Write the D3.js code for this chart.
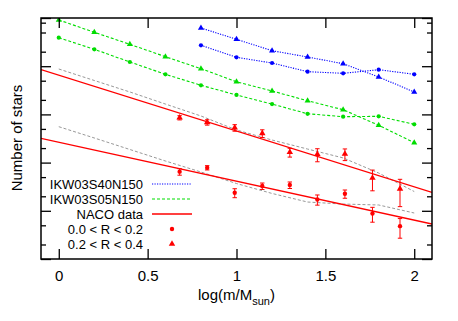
<!DOCTYPE html>
<html>
<head>
<meta charset="utf-8">
<script src="https://cdn.jsdelivr.net/npm/d3@7"></script>
<style>
  html, body { margin: 0; padding: 0; background: #fff; }
  svg { display: block; font-family: "Liberation Sans", Arial, Helvetica, sans-serif; }
</style>
</head>
<body>
<svg id="chart" width="458" height="321"></svg>
<script>
// ---- data ----
const xTicks = [0, 0.5, 1, 1.5, 2];
const yMajorTicks = [0.1, 1, 10, 100, 1000, 10000];
const yMinorTicks = [0.2, 0.5, 2, 5, 20, 50, 200, 500, 2000, 5000, 8000];

const modelX = [0, 0.2, 0.4, 0.6, 0.8, 1.0, 1.2, 1.4, 1.6, 1.8, 2.0];
const s05Tri  = [9100, 5050, 2845, 1574, 887, 477, 306, 192, 125, 59.4, 25.9];
const s05Circ = [3900, 2243, 1222, 679, 402, 253, 164, 103, 89.6, 91.3, 62.3];

const s40X    = [0.8, 1.0, 1.2, 1.4, 1.6, 1.8, 2.0];
const s40Tri  = [6205, 3614, 2098, 1552, 1127, 597, 292];
const s40Circ = [2715, 1530, 1165, 769, 712, 846, 679];

const grayUpper = [875, 505, 292, 164, 92.7, 47.5, 29.4, 19.1, 12.5, 6.08, 2.51];
const grayLower = [55.6, 32.4, 18.7, 10.8, 6.38, 3.68, 2.29, 1.52, 1.38, 1.32, 0.90];

const nacoX       = [0.68, 0.835, 0.99, 1.145, 1.30, 1.455, 1.61, 1.765, 1.92];
const nacoTri     = [85.4, 68.6, 53.0, 40.5, 16.4, 14.9, 15.1, 4.8, 2.86];
const nacoTriErr  = [8.6, 8.7, 8.2, 7.4, 3.4, 4.5, 4.1, 2.2, 1.64];
const nacoCirc    = [6.48, 7.84, 2.37, 3.27, 3.43, 1.72, 2.26, 0.88, 0.48];
const nacoCircErr = [1.0, 0.8, 0.5, 0.5, 0.53, 0.41, 0.44, 0.30, 0.21];

// power-law fits: log10(N) = intercept + slope * log(m)
const fitIntercepts = [2.815, 1.423];
const fitSlopes     = [-1.158, -0.808];

const legendLabels = ["IKW03S40N150", "IKW03S05N150", "NACO data", "0.0 < R < 0.2", "0.2 < R < 0.4"];

// ---- layout ----
const L = 41, R = 432, T = 18, B = 259;
const BLUE = "#0000ff", GREEN = "#00dd00", RED = "#ff0000", GRAY = "#8c8c8c";

const svg = d3.select("#chart");
const x = d3.scaleLinear().domain([-0.1, 2.1]).range([L, R]);
const y = d3.scaleLog().domain([0.1, 10000]).range([B, T]);

svg.append("defs").append("clipPath").attr("id", "clip")
  .append("rect").attr("x", L).attr("y", T).attr("width", R - L).attr("height", B - T);

const plot = svg.append("g").attr("clip-path", "url(#clip)");

const line = d3.line().x(d => x(d[0])).y(d => y(d[1]));
const zip = (xs, ys) => xs.map((v, i) => [v, ys[i]]);

// gray model lines
[grayUpper, grayLower].forEach(arr => {
  plot.append("path").attr("d", line(zip(modelX, arr)))
    .attr("fill", "none").attr("stroke", GRAY).attr("stroke-width", 0.9)
    .attr("stroke-dasharray", "3,2");
});

// red fit lines
fitIntercepts.forEach((a, i) => {
  const xd = x.domain();
  const pts = xd.map(v => [v, Math.pow(10, a + fitSlopes[i] * v)]);
  plot.append("path").attr("d", line(pts))
    .attr("fill", "none").attr("stroke", RED).attr("stroke-width", 1.3);
});

// green model
const sym = (type, size) => d3.symbol().type(type).size(size)();
function modelSeries(xs, ys, color, dash, type, size) {
  plot.append("path").attr("d", line(zip(xs, ys)))
    .attr("fill", "none").attr("stroke", color).attr("stroke-width", 1.1)
    .attr("stroke-dasharray", dash);
  plot.selectAll(null).data(zip(xs, ys)).enter().append("path")
    .attr("d", sym(type, size))
    .attr("transform", d => `translate(${x(d[0])},${y(d[1])})`)
    .attr("fill", color);
}
modelSeries(modelX, s05Tri, GREEN, "3,2", d3.symbolTriangle, 16);
modelSeries(modelX, s05Circ, GREEN, "3,2", d3.symbolCircle, 14);
modelSeries(s40X, s40Tri, BLUE, "1.2,1.3", d3.symbolTriangle, 16);
modelSeries(s40X, s40Circ, BLUE, "1.2,1.3", d3.symbolCircle, 14);

// NACO points with error bars
function errSeries(vals, errs, type, size) {
  const g = plot.append("g");
  vals.forEach((v, i) => {
    const cx = x(nacoX[i]);
    const y1 = y(v + errs[i]), y2 = y(v - errs[i]);
    g.append("line").attr("x1", cx).attr("x2", cx).attr("y1", y1).attr("y2", y2)
      .attr("stroke", RED).attr("stroke-width", 1);
    [y1, y2].forEach(yy => g.append("line").attr("x1", cx - 2.2).attr("x2", cx + 2.2)
      .attr("y1", yy).attr("y2", yy).attr("stroke", RED).attr("stroke-width", 1));
    g.append("path").attr("d", sym(type, size))
      .attr("transform", `translate(${cx},${y(v)})`).attr("fill", RED);
  });
}
errSeries(nacoTri, nacoTriErr, d3.symbolTriangle, 18);
errSeries(nacoCirc, nacoCircErr, d3.symbolCircle, 15);

// ---- axes ----
const axG = svg.append("g");
function styleAxis(g) {
  g.select(".domain").remove();
  g.selectAll(".tick line").attr("stroke", "#000").attr("stroke-width", 1.3);
  g.selectAll("text").attr("font-size", 15).attr("fill", "#000")
    .attr("font-family", "'Liberation Sans', Arial, sans-serif");
}
axG.append("g").attr("transform", `translate(0,${B})`)
  .call(d3.axisBottom(x).tickValues(xTicks).tickFormat(d3.format("")).tickSizeInner(-10).tickSizeOuter(0).tickPadding(11))
  .call(styleAxis);
axG.append("g").attr("transform", `translate(0,${T})`)
  .call(d3.axisTop(x).tickValues(xTicks).tickFormat("").tickSizeInner(-10).tickSizeOuter(0))
  .call(styleAxis);
[[d3.axisLeft, L], [d3.axisRight, R]].forEach(([ax, pos]) => {
  axG.append("g").attr("transform", `translate(${pos},0)`)
    .call(ax(y).tickValues(yMajorTicks).tickFormat("").tickSizeInner(-10).tickSizeOuter(0))
    .call(styleAxis);
  axG.append("g").attr("transform", `translate(${pos},0)`)
    .call(ax(y).tickValues(yMinorTicks).tickFormat("").tickSizeInner(-5).tickSizeOuter(0))
    .call(styleAxis);
});
axG.append("rect").attr("x", L).attr("y", T).attr("width", R - L).attr("height", B - T)
  .attr("fill", "none").attr("stroke", "#000").attr("stroke-width", 1.5);

// axis labels
svg.append("text").attr("transform", `translate(22,138) rotate(-90)`)
  .attr("text-anchor", "middle").attr("font-size", 15).text("Number of stars");
const xl = svg.append("text").attr("x", (L + R) / 2).attr("y", 300)
  .attr("text-anchor", "middle").attr("font-size", 15);
xl.append("tspan").text("log(m/M");
xl.append("tspan").attr("font-size", 11).attr("dy", 5).text("sun");
xl.append("tspan").attr("dy", -5).text(")");

// ---- legend ----
const leg = svg.append("g");
const rowY = [184, 199, 214, 229, 244];
legendLabels.forEach((lab, i) => {
  leg.append("text").attr("x", 143).attr("y", rowY[i] + 5)
    .attr("text-anchor", "end").attr("font-size", 13).text(lab);
});
const legLines = [[BLUE, "1.2,1.3", 1.1], [GREEN, "3,2", 1.1], [RED, null, 1.3]];
legLines.forEach(([c, dash, w], i) => {
  leg.append("line").attr("x1", 152).attr("x2", 192).attr("y1", rowY[i]).attr("y2", rowY[i])
    .attr("stroke", c).attr("stroke-width", w).attr("stroke-dasharray", dash);
});
leg.append("path").attr("d", sym(d3.symbolCircle, 15)).attr("transform", `translate(172,${rowY[3]})`).attr("fill", RED);
leg.append("path").attr("d", sym(d3.symbolTriangle, 18)).attr("transform", `translate(172,${rowY[4]})`).attr("fill", RED);
</script>
</body>
</html>
